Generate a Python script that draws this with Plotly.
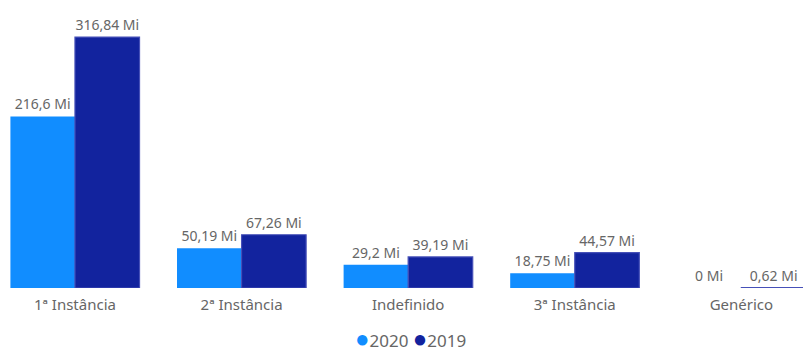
import plotly.graph_objects as go

categories = ["1ª Instância", "2ª Instância", "Indefinido", "3ª Instância", "Genérico"]
values_2020 = [216.6, 50.19, 29.2, 18.75, 0]
values_2019 = [316.84, 67.26, 39.19, 44.57, 0.62]
series_names = ["2020", "2019"]
colors = ["#118DFF", "#12239E"]
FONT = "Noto Sans"
GREY = "#666666"


def fmt(v):
    return f"{v:g}".replace(".", ",") + " Mi"


fig = go.Figure()
for name, vals, col, lw in zip(series_names, [values_2020, values_2019], colors, [0, 1.2]):
    fig.add_trace(go.Bar(
        x=categories, y=vals, name=name,
        marker=dict(color=col, line=dict(color="#4650B8" if lw else col, width=lw)),
        text=[fmt(v) for v in vals],
        textposition="outside",
        cliponaxis=False,
        textfont=dict(family=FONT, size=14, color=GREY),
        showlegend=False,
    ))

legend_html = " ".join(
    f"<span style='color:{c};font-size:24px'>●</span>{n}" for n, c in zip(series_names, colors)
)
fig.add_annotation(
    text=legend_html, xref="paper", yref="paper", x=0.511, y=-0.178,
    xanchor="center", yanchor="middle", showarrow=False,
    font=dict(family=FONT, size=17, color=GREY),
)

fig.update_layout(
    width=803, height=351,
    margin=dict(l=0, r=0, t=10, b=63, autoexpand=False),
    barmode="group",
    bargap=0.225,
    bargroupgap=0,
    plot_bgcolor="white",
    paper_bgcolor="white",
    font=dict(family=FONT, color=GREY, size=15),
    xaxis=dict(range=[-0.45, 4.37], showgrid=False, showline=False, ticks="",
               automargin=False, ticklabelstandoff=6,
               tickfont=dict(family=FONT, size=15, color=GREY)),
    yaxis=dict(range=[0, 351], visible=False, automargin=False),
    showlegend=False,
)

fig.write_html("out.html", config={"displayModeBar": False},
               post_script="document.body.style.margin='0';document.body.style.overflow='hidden';")
